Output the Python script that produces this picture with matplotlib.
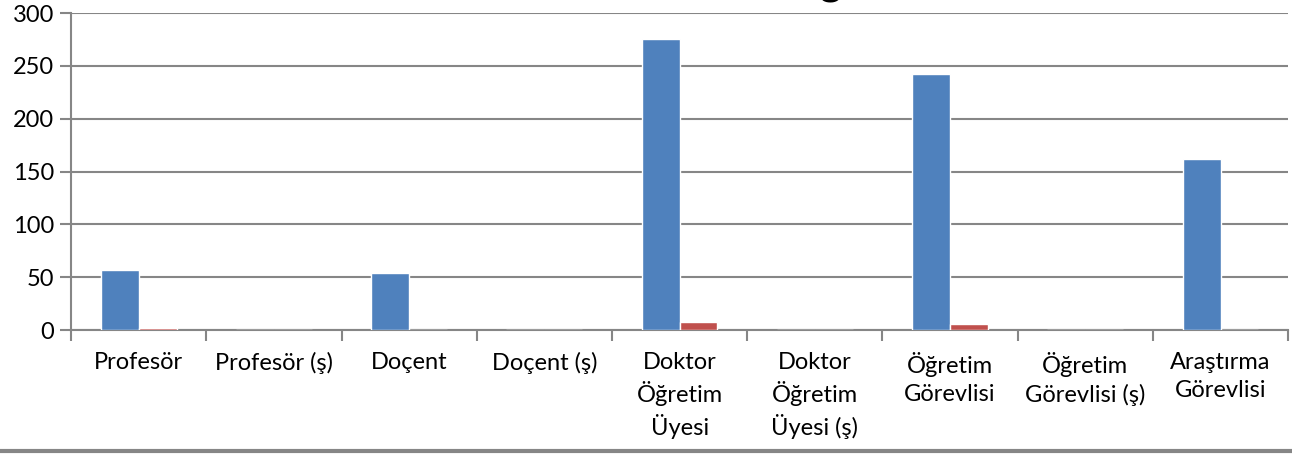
import numpy as np
import matplotlib.pyplot as plt
from matplotlib.lines import Line2D

categories = ["Profesör", "Profesör (ş)", "Doçent", "Doçent (ş)",
              "Doktor\nÖğretim\nÜyesi", "Doktor\nÖğretim\nÜyesi (ş)",
              "Öğretim\nGörevlisi", "Öğretim\nGörevlisi (ş)", "Araştırma\nGörevlisi"]
series_blue = [57, 0, 54, 0, 276, 0, 242, 0, 162]
series_red = [2, 0, 0, 0, 8, 0, 6, 0, 0]
yticks = [0, 50, 100, 150, 200, 250, 300]

plt.rcParams['font.family'] = ['Lato', 'DejaVu Sans']

fig = plt.figure(figsize=(12.92, 4.54), dpi=100)
ax = fig.add_axes([0.055, 0.273, 0.942, 0.698])

x = np.arange(len(categories))
w = 0.28
grid_col = "#868686"

ax.bar(x - w / 2, series_blue, w, color="#4F81BD", edgecolor="white", linewidth=1, zorder=3)
ax.bar(x + w / 2, series_red, w, color="#C0504D", edgecolor="white", linewidth=1, zorder=3)

ax.set_xlim(-0.5, len(categories) - 0.5)
ax.set_ylim(0, 300)
ax.set_yticks(yticks)
ax.yaxis.grid(True, color=grid_col, linewidth=1.5, zorder=0)

# category boundaries as major ticks, labels on minor ticks
ax.set_xticks(np.arange(len(categories) + 1) - 0.5)
ax.set_xticklabels([])
ax.set_xticks(x, minor=True)
ax.set_xticklabels(categories, minor=True, fontsize=17, linespacing=1.38, va="top")
ax.tick_params(axis="x", which="major", length=8, width=1.5, color=grid_col)
ax.tick_params(axis="x", which="minor", length=0, pad=16)
ax.tick_params(axis="y", length=8, width=1.5, color=grid_col, labelsize=17, pad=4)

for s in ["top", "right"]:
    ax.spines[s].set_visible(False)
for s in ["left", "bottom"]:
    ax.spines[s].set_color(grid_col)
    ax.spines[s].set_linewidth(1.5)

# clipped title remnant and bottom frame line
fig.text(0.643, 1.012, "g", fontsize=30, fontweight="bold", ha="center", va="baseline")
fig.add_artist(Line2D([0, 1], [0.007, 0.007], color=grid_col, linewidth=3, transform=fig.transFigure))

fig.savefig("out.png", dpi=100)
